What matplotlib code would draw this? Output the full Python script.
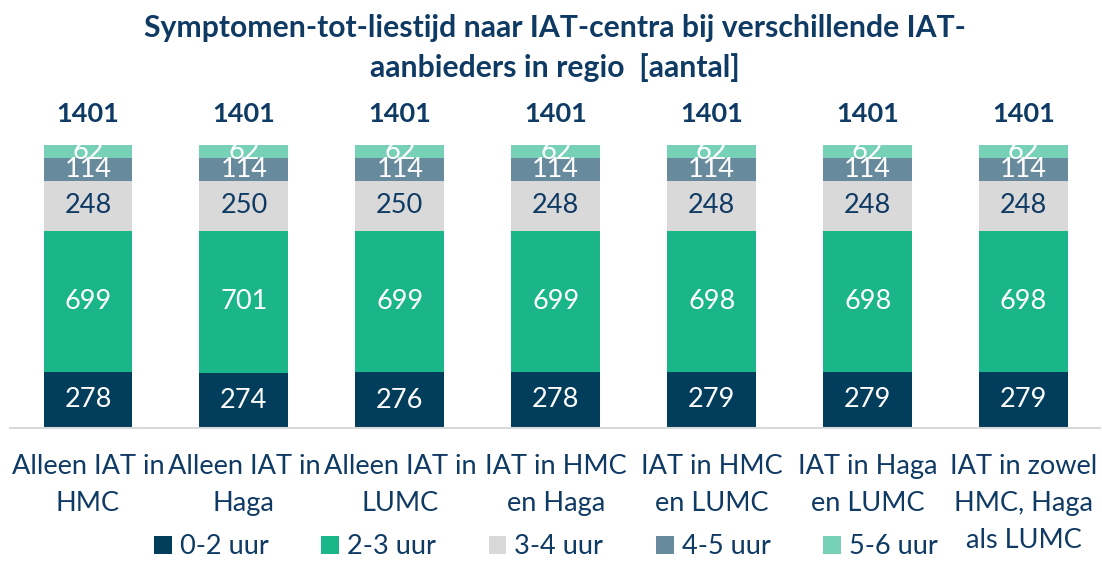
import matplotlib
matplotlib.use("Agg")
import matplotlib.pyplot as plt
import numpy as np
from matplotlib.patches import Patch

plt.rcParams['font.family'] = ['Lato', 'DejaVu Sans']

categories = ["Alleen IAT in\nHMC", "Alleen IAT in\nHaga", "Alleen IAT in\nLUMC",
              "IAT in HMC\nen Haga", "IAT in HMC\nen LUMC", "IAT in Haga\nen LUMC",
              "IAT in zowel\nHMC, Haga\nals LUMC"]
series_names = ["0-2 uur", "2-3 uur", "3-4 uur", "4-5 uur", "5-6 uur"]
v_0_2 = [278, 274, 276, 278, 279, 279, 279]
v_2_3 = [699, 701, 699, 699, 698, 698, 698]
v_3_4 = [248, 250, 250, 248, 248, 248, 248]
v_4_5 = [114, 114, 114, 114, 114, 114, 114]
v_5_6 = [62, 62, 62, 62, 62, 62, 62]
totals = [1401, 1401, 1401, 1401, 1401, 1401, 1401]

series = [v_0_2, v_2_3, v_3_4, v_4_5, v_5_6]
colors = ["#023E5C", "#1AB68A", "#D9D9D9", "#678A9D", "#76D1B6"]
text_colors = ["white", "white", "#0F3A64", "white", "white"]
navy = "#0F3A64"

fig = plt.figure(figsize=(11.02, 5.61), dpi=100)
W, H = 1102, 561
ax = fig.add_axes([10 / W, 1 - 428 / H, 1090 / W, (428 - 100) / H])

x = np.arange(len(categories))
bottom = np.zeros(len(categories))
for vals, col, tcol in zip(series, colors, text_colors):
    vals = np.array(vals, dtype=float)
    ax.bar(x, vals, bottom=bottom, width=0.57, color=col, edgecolor='none', zorder=2)
    for xi, b, v in zip(x, bottom, vals):
        ax.text(xi, b + v / 2, f"{int(v)}", ha='center', va='center',
                fontsize=19.5, color=tcol, zorder=3)
    bottom += vals

for xi, t in zip(x, totals):
    ax.annotate(f"{t}", (xi, t), xytext=(0, 22), textcoords='offset points',
                ha='center', va='center', fontsize=19.5, fontweight='bold',
                color=navy, annotation_clip=False)

ax.set_xlim(-0.5, 6.49)
ax.set_ylim(0, 1401 * (428 - 100) / 283)
for s in ['top', 'right', 'left']:
    ax.spines[s].set_visible(False)
ax.spines['bottom'].set_color('#D9D9D9')
ax.spines['bottom'].set_linewidth(1.5)
ax.set_yticks([])
ax.set_xticks(x)
ax.set_xticklabels(categories, fontsize=19.5, color=navy, linespacing=1.6)
ax.tick_params(axis='x', length=0, pad=19)

fig.text(555 / W, 1 - 28 / H, "Symptomen-tot-liestijd naar IAT-centra bij verschillende IAT-",
         ha='center', va='center', fontsize=21.7, fontweight='bold', color=navy)
fig.text(555 / W, 1 - 68 / H, "aanbieders in regio  [aantal]",
         ha='center', va='center', fontsize=21.7, fontweight='bold', color=navy)

handles = [Patch(facecolor=c, edgecolor='none') for c in colors]
fig.legend(handles, series_names, loc='center', bbox_to_anchor=(546 / W, 1 - 547 / H),
           ncol=5, frameon=False, fontsize=19.5, labelcolor=navy,
           handlelength=0.65, handleheight=0.65, handletextpad=0.3, columnspacing=1.95,
           borderpad=0.1)

fig.savefig("out.png", dpi=100)
